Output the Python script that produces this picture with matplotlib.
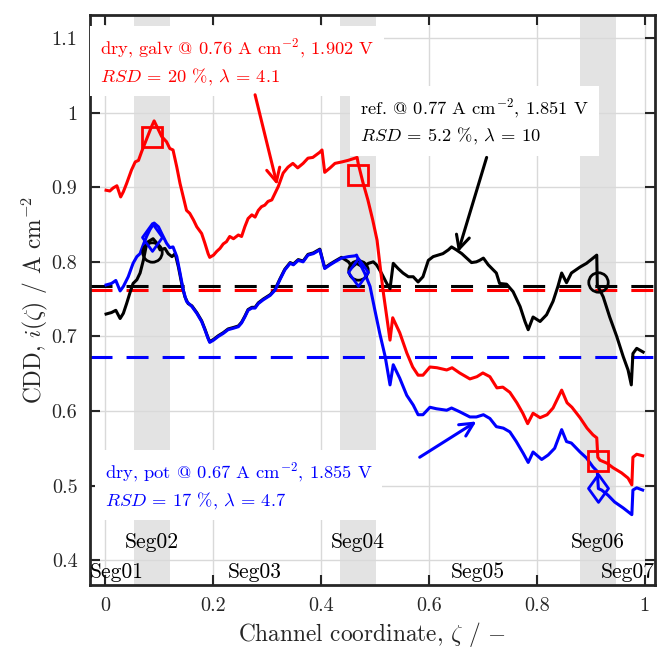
import matplotlib
matplotlib.use('Agg')
import matplotlib.pyplot as plt
import numpy as np
from matplotlib.path import Path
from matplotlib.ticker import FuncFormatter

plt.rcParams['font.family'] = 'serif'
plt.rcParams['font.serif'] = ['cmr10', 'DejaVu Serif']
plt.rcParams['mathtext.fontset'] = 'cm'
plt.rcParams['axes.unicode_minus'] = False
plt.rcParams['axes.formatter.use_mathtext'] = True

# segment layout along the channel
seg_names = ['Seg01', 'Seg02', 'Seg03', 'Seg04', 'Seg05', 'Seg06', 'Seg07']
seg_edges = [0.0, 0.054, 0.12, 0.435, 0.502, 0.88, 0.946, 1.0]
marker_z = [0.087, 0.468, 0.913]

# dry, galvanostatic
galv_z = [0.002, 0.009, 0.015, 0.022, 0.029, 0.034, 0.040, 0.049, 0.056, 0.062, 0.068, 0.074,
          0.080, 0.086, 0.091, 0.099, 0.105, 0.114, 0.120, 0.126, 0.133, 0.139, 0.145, 0.151,
          0.157, 0.164, 0.170, 0.179, 0.185, 0.191, 0.194, 0.201, 0.207, 0.213, 0.219, 0.225,
          0.231, 0.238, 0.247, 0.253, 0.259, 0.265, 0.272, 0.278, 0.284, 0.290, 0.296, 0.302,
          0.309, 0.315, 0.321, 0.330, 0.339, 0.348, 0.357, 0.367, 0.376, 0.385, 0.398, 0.402,
          0.407, 0.417, 0.426, 0.439, 0.450, 0.463, 0.467, 0.469, 0.478, 0.487, 0.496, 0.504,
          0.509, 0.515, 0.522, 0.528, 0.533, 0.546, 0.559, 0.570, 0.580, 0.589, 0.602, 0.615,
          0.633, 0.643, 0.657, 0.676, 0.689, 0.700, 0.713, 0.726, 0.737, 0.750, 0.763, 0.774,
          0.783, 0.793, 0.806, 0.819, 0.830, 0.846, 0.856, 0.865, 0.880, 0.893, 0.904, 0.911,
          0.913, 0.917, 0.930, 0.941, 0.957, 0.969, 0.976, 0.978, 0.985, 0.996]
galv_i = [0.896, 0.895, 0.899, 0.902, 0.887, 0.894, 0.905, 0.923, 0.934, 0.936, 0.948, 0.959,
          0.970, 0.981, 0.989, 0.977, 0.968, 0.961, 0.952, 0.950, 0.927, 0.905, 0.887, 0.869,
          0.865, 0.856, 0.847, 0.838, 0.825, 0.811, 0.806, 0.809, 0.814, 0.818, 0.824, 0.827,
          0.834, 0.831, 0.836, 0.834, 0.847, 0.858, 0.863, 0.860, 0.869, 0.874, 0.876, 0.881,
          0.883, 0.892, 0.901, 0.919, 0.927, 0.932, 0.926, 0.932, 0.939, 0.940, 0.947, 0.950,
          0.920, 0.926, 0.932, 0.934, 0.936, 0.939, 0.940, 0.932, 0.906, 0.883, 0.856, 0.829,
          0.798, 0.762, 0.726, 0.695, 0.725, 0.705, 0.678, 0.659, 0.648, 0.648, 0.659, 0.658,
          0.655, 0.658, 0.651, 0.643, 0.646, 0.651, 0.646, 0.631, 0.632, 0.625, 0.611, 0.597,
          0.583, 0.597, 0.591, 0.595, 0.604, 0.628, 0.611, 0.605, 0.591, 0.577, 0.568, 0.564,
          0.538, 0.534, 0.530, 0.524, 0.517, 0.510, 0.501, 0.538, 0.542, 0.540]

# dry, potentiostatic
pot_z = [0.002, 0.012, 0.020, 0.028, 0.034, 0.043, 0.052, 0.059, 0.065, 0.071, 0.077, 0.083,
         0.091, 0.099, 0.105, 0.114, 0.120, 0.126, 0.133, 0.139, 0.145, 0.151, 0.161, 0.170,
         0.179, 0.185, 0.191, 0.194, 0.201, 0.210, 0.219, 0.228, 0.238, 0.247, 0.253, 0.259,
         0.265, 0.272, 0.278, 0.284, 0.293, 0.306, 0.315, 0.324, 0.333, 0.343, 0.349, 0.358,
         0.367, 0.376, 0.386, 0.398, 0.407, 0.417, 0.426, 0.438, 0.451, 0.463, 0.466, 0.472,
         0.481, 0.491, 0.500, 0.509, 0.519, 0.528, 0.534, 0.546, 0.559, 0.571, 0.580, 0.589,
         0.602, 0.614, 0.633, 0.642, 0.657, 0.676, 0.688, 0.701, 0.713, 0.725, 0.738, 0.750,
         0.762, 0.775, 0.784, 0.793, 0.809, 0.821, 0.833, 0.846, 0.855, 0.864, 0.880, 0.892,
         0.904, 0.912, 0.914, 0.920, 0.932, 0.944, 0.960, 0.976, 0.978, 0.985, 0.996]
pot_i = [0.769, 0.771, 0.775, 0.761, 0.767, 0.780, 0.798, 0.807, 0.811, 0.823, 0.834, 0.843,
         0.852, 0.847, 0.838, 0.825, 0.819, 0.820, 0.807, 0.785, 0.762, 0.747, 0.740, 0.731,
         0.720, 0.709, 0.697, 0.692, 0.695, 0.700, 0.704, 0.709, 0.711, 0.713, 0.718, 0.726,
         0.735, 0.738, 0.738, 0.744, 0.749, 0.755, 0.762, 0.776, 0.789, 0.798, 0.796, 0.802,
         0.800, 0.809, 0.811, 0.816, 0.791, 0.796, 0.800, 0.805, 0.807, 0.808, 0.809, 0.798,
         0.785, 0.767, 0.735, 0.704, 0.673, 0.635, 0.662, 0.644, 0.621, 0.608, 0.595, 0.595,
         0.605, 0.603, 0.601, 0.604, 0.599, 0.592, 0.592, 0.595, 0.590, 0.579, 0.577, 0.572,
         0.559, 0.543, 0.531, 0.545, 0.535, 0.541, 0.550, 0.575, 0.559, 0.557, 0.545, 0.537,
         0.525, 0.519, 0.496, 0.494, 0.487, 0.478, 0.470, 0.461, 0.494, 0.497, 0.494]

# reference
ref_z = [0.002, 0.012, 0.020, 0.028, 0.034, 0.040, 0.046, 0.052, 0.059, 0.065, 0.071, 0.076,
         0.080, 0.089, 0.096, 0.102, 0.111, 0.117, 0.124, 0.130, 0.136, 0.142, 0.148, 0.154,
         0.161, 0.170, 0.179, 0.185, 0.191, 0.194, 0.201, 0.210, 0.219, 0.228, 0.238, 0.247,
         0.253, 0.259, 0.265, 0.272, 0.278, 0.284, 0.293, 0.306, 0.315, 0.324, 0.333, 0.343,
         0.349, 0.358, 0.367, 0.376, 0.386, 0.398, 0.407, 0.417, 0.426, 0.438, 0.451, 0.458,
         0.466, 0.478, 0.488, 0.497, 0.503, 0.512, 0.522, 0.528, 0.534, 0.543, 0.552, 0.562,
         0.571, 0.580, 0.589, 0.599, 0.608, 0.617, 0.626, 0.636, 0.642, 0.651, 0.661, 0.670,
         0.679, 0.688, 0.694, 0.701, 0.710, 0.725, 0.731, 0.744, 0.756, 0.769, 0.778, 0.784,
         0.793, 0.806, 0.818, 0.830, 0.839, 0.846, 0.855, 0.864, 0.880, 0.892, 0.911, 0.912,
         0.923, 0.935, 0.948, 0.960, 0.969, 0.975, 0.978, 0.985, 0.997]
ref_i = [0.730, 0.732, 0.735, 0.724, 0.731, 0.744, 0.758, 0.771, 0.776, 0.785, 0.802, 0.820,
         0.827, 0.831, 0.825, 0.816, 0.818, 0.811, 0.807, 0.811, 0.793, 0.771, 0.753, 0.744,
         0.741, 0.732, 0.721, 0.710, 0.698, 0.693, 0.696, 0.701, 0.705, 0.710, 0.712, 0.714,
         0.719, 0.727, 0.736, 0.739, 0.739, 0.745, 0.750, 0.756, 0.763, 0.777, 0.790, 0.799,
         0.797, 0.803, 0.801, 0.810, 0.812, 0.817, 0.792, 0.797, 0.801, 0.806, 0.800, 0.793,
         0.798, 0.793, 0.798, 0.800, 0.796, 0.785, 0.771, 0.764, 0.798, 0.791, 0.785, 0.780,
         0.780, 0.773, 0.780, 0.802, 0.807, 0.809, 0.811, 0.816, 0.820, 0.816, 0.811, 0.805,
         0.799, 0.800, 0.802, 0.805, 0.796, 0.785, 0.771, 0.770, 0.760, 0.740, 0.720, 0.709,
         0.726, 0.720, 0.729, 0.747, 0.767, 0.785, 0.772, 0.785, 0.793, 0.798, 0.809, 0.769,
         0.753, 0.726, 0.700, 0.673, 0.655, 0.635, 0.677, 0.684, 0.679]

# segment means shown with markers
galv_seg = [0.967, 0.916, 0.533]
pot_seg = [0.833, 0.786, 0.497]
ref_seg = [0.813, 0.789, 0.773]

# overall means (dashed)
galv_mean = 0.762
pot_mean = 0.673
ref_mean = 0.768

galv_text = 'dry, galv @ 0.76 A cm$^{-2}$, 1.902 V\n$RSD$ = 20 %, $\\lambda$ = 4.1'
ref_text = 'ref. @ 0.77 A cm$^{-2}$, 1.851 V\n$RSD$ = 5.2 %, $\\lambda$ = 10'
pot_text = 'dry, pot @ 0.67 A cm$^{-2}$, 1.855 V\n$RSD$ = 17 %, $\\lambda$ = 4.7'

diamond = Path([(0, 1), (0.72, 0), (0, -1), (-0.72, 0), (0, 1)],
               [Path.MOVETO, Path.LINETO, Path.LINETO, Path.LINETO, Path.CLOSEPOLY])

fig = plt.figure(figsize=(6.61, 6.51), dpi=100)
ax = fig.add_axes([0.136, 0.1014, 0.855, 0.8756])

for k in (1, 3, 5):
    ax.axvspan(seg_edges[k], seg_edges[k + 1], color='#e3e3e3', lw=0, zorder=0)

ax.grid(True, color='#d9d9d9', lw=1, zorder=0.5)
ax.set_axisbelow(True)

for m, c in ((ref_mean, 'k'), (galv_mean, 'r'), (pot_mean, 'b')):
    ax.axhline(m, color=c, lw=2.2, ls=(0, (7.2, 4.6)), zorder=2)

ax.plot(ref_z, ref_i, color='k', lw=2.2, zorder=3)
ax.plot(galv_z, galv_i, color='r', lw=2.2, zorder=3)
ax.plot(pot_z, pot_i, color='b', lw=2.2, zorder=3)

ax.plot(marker_z, ref_seg, 'o', ms=14, mfc='none', mec='k', mew=2, zorder=4)
ax.plot(marker_z, galv_seg, 's', ms=14, mfc='none', mec='r', mew=2, zorder=4)
ax.plot(marker_z, pot_seg, ls='none', marker=diamond, ms=20, mfc='none', mec='b', mew=2, zorder=4)

box = dict(facecolor='white', edgecolor='none', pad=7)
ax.text(0.018, 0.962, galv_text, color='r', fontsize=13.3, transform=ax.transAxes,
        ha='left', va='top', linespacing=1.35, bbox=box, zorder=5)
ax.text(0.478, 0.857, ref_text, color='k', fontsize=13.3, transform=ax.transAxes,
        ha='left', va='top', linespacing=1.35, bbox=box, zorder=5)
ax.text(0.026, 0.218, pot_text, color='b', fontsize=13.3, transform=ax.transAxes,
        ha='left', va='top', linespacing=1.35, bbox=box, zorder=5)

arrow = dict(arrowstyle='->', lw=2.2, mutation_scale=24, shrinkA=0, shrinkB=0)
ax.annotate('', xy=(0.319, 0.903), xytext=(0.278, 1.024), arrowprops=dict(arrow, color='r'), zorder=6)
ax.annotate('', xy=(0.654, 0.813), xytext=(0.707, 0.940), arrowprops=dict(arrow, color='k'), zorder=6)
ax.annotate('', xy=(0.688, 0.586), xytext=(0.583, 0.538), arrowprops=dict(arrow, color='b'), zorder=6)

for k, name in enumerate(seg_names):
    xc = 0.5 * (seg_edges[k] + seg_edges[k + 1])
    yc = 0.384 if k % 2 == 0 else 0.424
    ha = 'center'
    if k == 0:
        xc, ha = -0.029, 'left'
    if k == 6:
        xc, ha = 1.019, 'right'
    ax.text(xc, yc, name, fontsize=15.5, ha=ha, va='center', zorder=5)

ax.set_xlim(-0.028, 1.019)
ax.set_ylim(0.3667, 1.131)
ax.set_xticks([0, 0.2, 0.4, 0.6, 0.8, 1])
ax.set_yticks([0.4, 0.5, 0.6, 0.7, 0.8, 0.9, 1.0, 1.1])
fmt = FuncFormatter(lambda v, p: '%g' % round(v, 3))
ax.xaxis.set_major_formatter(fmt)
ax.yaxis.set_major_formatter(fmt)
ax.tick_params(direction='in', length=7, width=1.5, top=True, right=True,
               labelsize=14.5, colors='#262626', pad=9)
for s in ax.spines.values():
    s.set_linewidth(2)
    s.set_color('#262626')

ax.set_xlabel('Channel coordinate, $\\zeta$ / $-$', fontsize=16.8, color='#262626', labelpad=3)
ax.set_ylabel('CDD, $i(\\zeta)$ / A cm$^{-2}$', fontsize=16.8, color='#262626', labelpad=1)

fig.savefig('out.png', dpi=100)
